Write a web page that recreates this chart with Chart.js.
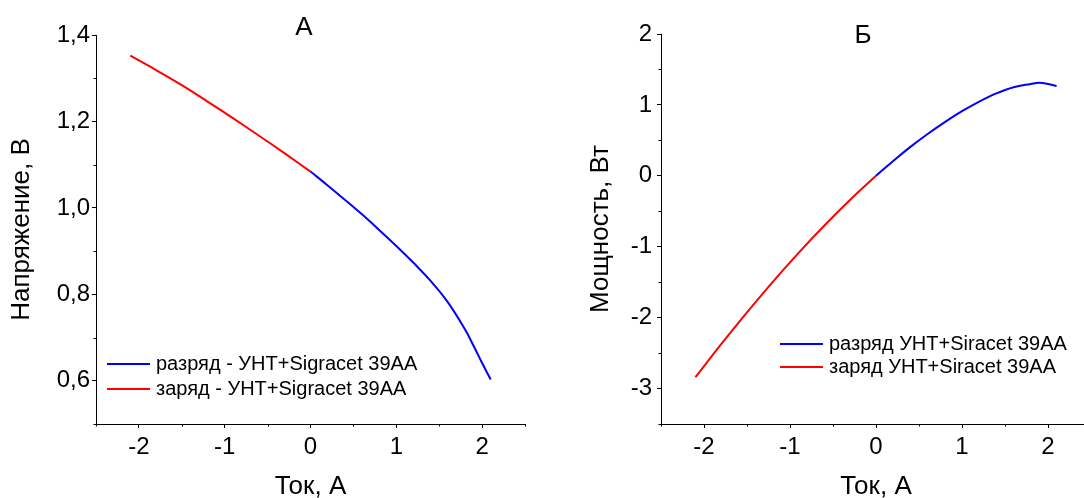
<!DOCTYPE html>
<html lang="ru">
<head>
<meta charset="utf-8">
<title>Разряд и заряд УНТ+Sigracet 39AA</title>
<script src="https://cdn.jsdelivr.net/npm/chart.js@4.4.1/dist/chart.umd.min.js"></script>
<style>
  html, body { margin: 0; padding: 0; background: #fff; overflow: hidden; }
  body { width: 1084px; height: 498px; position: relative; }
  canvas { position: absolute; top: 0; }
  #chartA { left: 0; }
  #chartB { left: 540px; }
</style>
</head>
<body>
<canvas id="chartA" width="540" height="498"></canvas>
<canvas id="chartB" width="566" height="498"></canvas>
<script>
// Ток, А
const currentDischarge = [0, 0.2, 0.4, 0.6, 0.8, 1.0, 1.2, 1.4, 1.6, 1.8, 1.9, 2.0, 2.1];
const currentCharge = [-2.1, -1.8, -1.5, -1.2, -0.9, -0.6, -0.3, 0];

// Напряжение, В
const voltageDischarge = [1.084, 1.052, 1.019, 0.985, 0.949, 0.912, 0.873, 0.831, 0.782, 0.719, 0.681, 0.641, 0.603];
const voltageCharge = [1.352, 1.319, 1.284, 1.246, 1.207, 1.167, 1.126, 1.084];

// Мощность, Вт
const powerDischarge = [0, 0.210, 0.408, 0.590, 0.758, 0.911, 1.047, 1.163, 1.250, 1.296, 1.313, 1.294, 1.266];
const powerCharge = [-2.84, -2.374, -1.926, -1.495, -1.086, -0.700, -0.338, 0];

// подписи делений
const currentTicks = [-2, -1, 0, 1, 2];
const voltageTicks = [0.6, 0.8, 1.0, 1.2, 1.4];
const powerTicks = [-3, -2, -1, 0, 1, 2];

const BLUE = "#0000ff";
const RED = "#ff0000";
const FONT = "'Liberation Sans', Arial, sans-serif";

Chart.defaults.font.family = FONT;
Chart.defaults.color = "#000";

const toPoints = (xs, ys) => xs.map((x, i) => ({ x: x, y: ys[i] }));

// short unlabeled ticks between the major ones
const minorTicks = {
  id: "minorTicks",
  afterDraw(chart, args, opts) {
    const { ctx } = chart;
    const drawAxis = (scale, step, major, horizontal) => {
      const from = Math.ceil(scale.min / step - 1e-9);
      const to = Math.floor(scale.max / step + 1e-9);
      for (let n = from; n <= to; n++) {
        const v = n * step;
        if (Math.abs(v / major - Math.round(v / major)) < 1e-6) continue;
        const p = Math.round(scale.getPixelForValue(v)) + 0.5;
        if (horizontal) {
          ctx.moveTo(p, scale.top);
          ctx.lineTo(p, scale.top + opts.length);
        } else {
          ctx.moveTo(scale.right, p);
          ctx.lineTo(scale.right - opts.length, p);
        }
      }
    };
    ctx.save();
    ctx.strokeStyle = "#000";
    ctx.lineWidth = 1;
    ctx.beginPath();
    drawAxis(chart.scales.x, opts.xStep, opts.xMajor, true);
    drawAxis(chart.scales.y, opts.yStep, opts.yMajor, false);
    ctx.stroke();
    ctx.restore();
  },
};

// panel letter and the in-plot legend
const panelDecor = {
  id: "panelDecor",
  afterDraw(chart, args, opts) {
    const { ctx } = chart;
    ctx.save();
    ctx.fillStyle = "#000";
    ctx.textBaseline = "middle";
    ctx.textAlign = "center";
    ctx.font = "26px " + FONT;
    ctx.fillText(opts.letter, opts.letterX, opts.letterY);

    ctx.textAlign = "left";
    ctx.font = opts.legendFont + "px " + FONT;
    chart.data.datasets.forEach((ds, i) => {
      const y = opts.legendY + i * opts.legendGap;
      ctx.strokeStyle = ds.borderColor;
      ctx.lineWidth = 2;
      ctx.beginPath();
      ctx.moveTo(opts.legendX, y);
      ctx.lineTo(opts.legendX + opts.legendLine, y);
      ctx.stroke();
      ctx.fillText(ds.label, opts.legendX + opts.legendLine + 6, y);
    });
    ctx.restore();
  },
};

function axisBase(title, tickValues, format) {
  return {
    type: "linear",
    grid: { drawOnChartArea: false, drawTicks: true, tickLength: 4, tickColor: "#000", tickWidth: 1 },
    border: { display: true, color: "#000", width: 1 },
    afterBuildTicks: (scale) => {
      scale.ticks = tickValues.map((v) => ({ value: v }));
    },
    ticks: {
      color: "#000",
      font: { size: 24 },
      callback: format,
    },
    title: { display: true, text: title, color: "#000", font: { size: 26, lineHeight: 1 } },
  };
}

function makePanel(canvasId, cfg) {
  const xAxis = axisBase("Ток, А", currentTicks, (v) => String(v));
  xAxis.min = -2.5;
  xAxis.max = 2.5;
  xAxis.ticks.padding = 5;
  xAxis.ticks.maxRotation = 0;
  xAxis.title.padding = { top: 0, bottom: -2 };
  xAxis.afterFit = (scale) => { scale.height = 74; };

  const yAxis = axisBase(cfg.yTitle, cfg.yTicks, cfg.yFormat);
  yAxis.min = cfg.yMin;
  yAxis.max = cfg.yMax;
  yAxis.ticks.padding = cfg.yTickPad;
  yAxis.title.padding = { top: cfg.yTitlePad, bottom: 0 };
  yAxis.afterFit = (scale) => { scale.width = cfg.yWidth; };

  const line = (label, xs, ys, color) => ({
    label: label,
    data: toPoints(xs, ys),
    borderColor: color,
    borderWidth: 2,
    pointRadius: 0,
    tension: 0.4,
  });

  return new Chart(document.getElementById(canvasId), {
    type: "line",
    data: {
      datasets: [
        line(cfg.labels[0], currentDischarge, cfg.discharge, BLUE),
        line(cfg.labels[1], currentCharge, cfg.charge, RED),
      ],
    },
    options: {
      responsive: false,
      animation: false,
      layout: { padding: { left: 0, top: cfg.top, right: 15, bottom: 0 } },
      scales: { x: xAxis, y: yAxis },
      plugins: {
        legend: { display: false },
        title: { display: false },
        tooltip: { enabled: false },
        minorTicks: { xStep: 0.5, xMajor: 1, yStep: cfg.yMinorStep, yMajor: cfg.yMajorStep, length: 2.5 },
        panelDecor: cfg.decor,
      },
    },
    plugins: [minorTicks, panelDecor],
  });
}

// А: напряжение
makePanel("chartA", {
  yTitle: "Напряжение, В",
  yTicks: voltageTicks,
  yFormat: (v) => v.toFixed(1).replace(".", ","),
  yMin: 0.5,
  yMax: 1.4,
  yMinorStep: 0.1,
  yMajorStep: 0.2,
  yTickPad: 2,
  yTitlePad: 9,
  yWidth: 96,
  top: 35,
  discharge: voltageDischarge,
  charge: voltageCharge,
  labels: ["разряд - УНТ+Sigracet 39AA", "заряд - УНТ+Sigracet 39AA"],
  decor: { letter: "А", letterX: 304, letterY: 28, legendX: 107, legendY: 364, legendGap: 25, legendLine: 43, legendFont: 20 },
});

// Б: мощность
makePanel("chartB", {
  yTitle: "Мощность, Вт",
  yTicks: powerTicks,
  yFormat: (v) => String(v),
  yMin: -3.5,
  yMax: 2,
  yMinorStep: 0.5,
  yMajorStep: 1,
  yTickPad: 5,
  yTitlePad: 48,
  yWidth: 121,
  top: 34,
  discharge: powerDischarge,
  charge: powerCharge,
  labels: ["разряд УНТ+Siracet 39AA", "заряд УНТ+Siracet 39AA"],
  decor: { letter: "Б", letterX: 323, letterY: 36, legendX: 240, legendY: 344, legendGap: 23, legendLine: 43, legendFont: 20 },
});
</script>
</body>
</html>
